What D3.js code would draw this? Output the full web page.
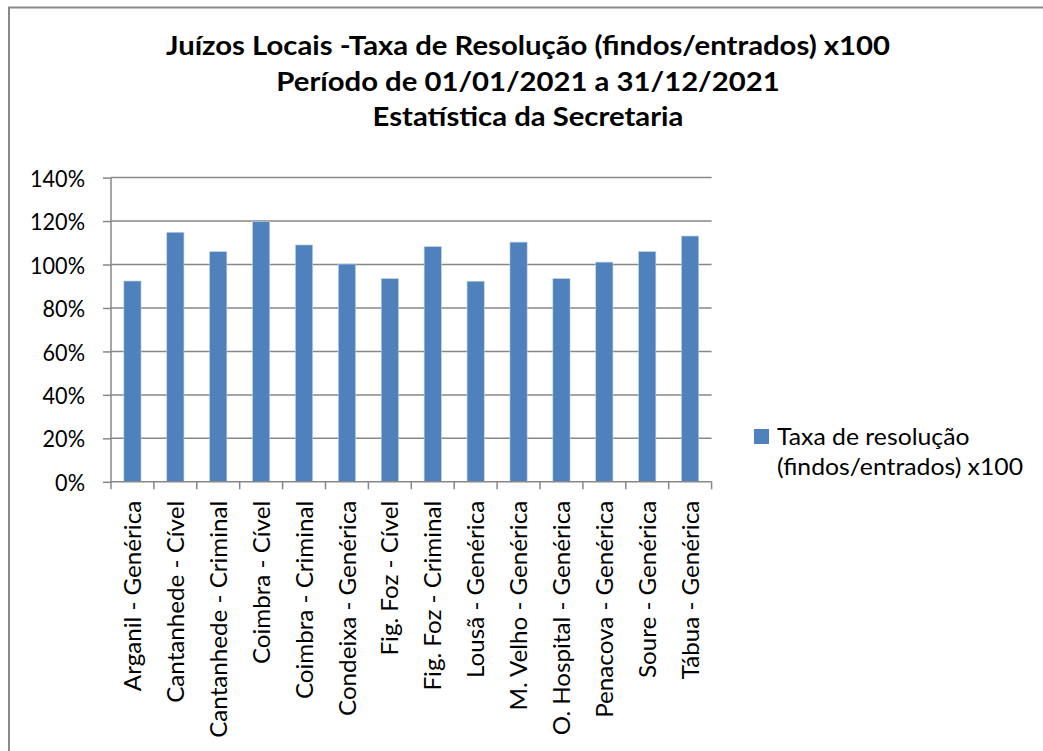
<!DOCTYPE html>
<html>
<head>
<meta charset="utf-8">
<script src="https://cdn.jsdelivr.net/npm/d3@7"></script>
<style>
  html, body { margin: 0; padding: 0; background: #fff; }
  svg { display: block; font-family: Lato, "Open Sans", sans-serif; }
</style>
</head>
<body>
<div id="chart"></div>
<script>
// data
const categories = [
  "Arganil - Genérica", "Cantanhede - Cível", "Cantanhede - Criminal",
  "Coimbra - Cível", "Coimbra - Criminal", "Condeixa - Genérica",
  "Fig. Foz - Cível", "Fig. Foz - Criminal", "Lousã - Genérica",
  "M. Velho - Genérica", "O. Hospital - Genérica", "Penacova - Genérica",
  "Soure - Genérica", "Tábua - Genérica"
];
const taxaValues = [92.4, 114.8, 105.9, 119.8, 109.0, 100.2, 93.5, 108.2, 92.3, 110.3, 93.5, 101.1, 105.9, 113.1];
const yTicks = [0, 20, 40, 60, 80, 100, 120, 140];
const titleLines = [
  "Juízos Locais -Taxa de Resolução (findos/entrados) x100",
  "Período de 01/01/2021 a 31/12/2021",
  "Estatística da Secretaria"
];
const legendLines = ["Taxa de resolução", "(findos/entrados) x100"];

const W = 1043, H = 751;
const plot = { left: 111, right: 711.6, top: 177.6, bottom: 481.8 };
const barColor = "#4f81bd";
const gridColor = "#878787";

const svg = d3.select("#chart").append("svg")
    .attr("width", W)
    .attr("height", H);

// width of a string at a given size and weight
function measure(text, size, weight) {
  const t = svg.append("text").attr("font-size", size).attr("font-weight", weight).text(text);
  const w = t.node().getComputedTextLength();
  t.remove();
  return w;
}

// Lato is wider than the Calibri of the picture: keep the glyph height and
// squeeze each string so a reference string gets its measured width
function squeeze(sel, size, weight, refText, target) {
  const k = target / measure(refText, size, weight);
  sel.attr("font-size", size)
     .attr("font-weight", weight)
     .each(function() {
       const w = this.getComputedTextLength();
       d3.select(this).attr("textLength", w * k).attr("lengthAdjust", "spacingAndGlyphs");
     });
}

// outer chart border (only top and left are visible)
svg.append("path")
    .attr("d", `M9,${H} L9,7.5 L${W},7.5`)
    .attr("fill", "none")
    .attr("stroke", "#8a8a8a")
    .attr("stroke-width", 2);

const x = d3.scaleBand().domain(categories).range([plot.left, plot.right]).paddingInner(0.6).paddingOuter(0.3);
const y = d3.scaleLinear().domain([0, 140]).range([plot.bottom, plot.top]);

// gridlines
svg.append("g")
    .selectAll("line")
    .data(yTicks.filter(d => d > 0))
    .join("line")
    .attr("x1", plot.left).attr("x2", plot.right)
    .attr("y1", d => y(d)).attr("y2", d => y(d))
    .attr("stroke", gridColor)
    .attr("stroke-width", 1.5);

// bars
svg.append("g")
    .selectAll("rect")
    .data(taxaValues)
    .join("rect")
    .attr("x", (d, i) => x(categories[i]))
    .attr("y", d => y(d))
    .attr("width", x.bandwidth())
    .attr("height", d => y(0) - y(d))
    .attr("fill", barColor)
    .attr("stroke", "#b9cde5")
    .attr("stroke-width", 0.6);

// y axis
const yAxis = d3.axisLeft(y).tickValues(yTicks).tickFormat(d => d + "%").tickSize(8).tickPadding(18);
const gy = svg.append("g")
    .attr("transform", `translate(${plot.left},0)`)
    .call(yAxis);
gy.select(".domain").attr("stroke", gridColor).attr("stroke-width", 1.5).attr("d", `M0,${plot.top}V${plot.bottom}`);
gy.selectAll(".tick line").attr("stroke", gridColor).attr("stroke-width", 1.5);
gy.selectAll(".tick text")
    .attr("font-family", "Lato, sans-serif")
    .attr("fill", "#000")
    .attr("dy", "0.36em")
    .call(squeeze, 24, 400, "140%", 55);

// x axis: ticks between categories
const step = x.step();
const bounds = d3.range(categories.length + 1).map(i => plot.left + i * step);
const gx = svg.append("g");
gx.append("line")
    .attr("x1", plot.left).attr("x2", plot.right)
    .attr("y1", plot.bottom).attr("y2", plot.bottom)
    .attr("stroke", gridColor).attr("stroke-width", 1.5);
gx.selectAll("line.tk")
    .data(bounds)
    .join("line")
    .attr("class", "tk")
    .attr("x1", d => d).attr("x2", d => d)
    .attr("y1", plot.bottom).attr("y2", plot.bottom + 7.5)
    .attr("stroke", gridColor).attr("stroke-width", 1.5);

gx.selectAll("text")
    .data(categories)
    .join("text")
    .attr("transform", d => `translate(${x(d) + x.bandwidth() / 2},${plot.bottom + 19}) rotate(-90)`)
    .attr("text-anchor", "end")
    .attr("dy", "0.36em")
    .attr("fill", "#000")
    .text(d => d)
    .call(squeeze, 24, 400, "Cantanhede - Criminal", 237);

// title
svg.append("g")
    .selectAll("text")
    .data(titleLines)
    .join("text")
    .attr("x", 528)
    .attr("y", (d, i) => 55 + i * 35.5)
    .attr("text-anchor", "middle")
    .attr("fill", "#000")
    .text(d => d)
    .call(squeeze, 26.5, 700, titleLines[0], 724);

// legend
const legend = svg.append("g");
legend.append("rect")
    .attr("x", 754).attr("y", 429)
    .attr("width", 15).attr("height", 15)
    .attr("fill", barColor);
legend.selectAll("text")
    .data(legendLines)
    .join("text")
    .attr("x", 777)
    .attr("y", (d, i) => 445 + i * 30)
    .attr("fill", "#000")
    .text(d => d)
    .call(squeeze, 24, 400, legendLines[1], 246);
</script>
</body>
</html>
